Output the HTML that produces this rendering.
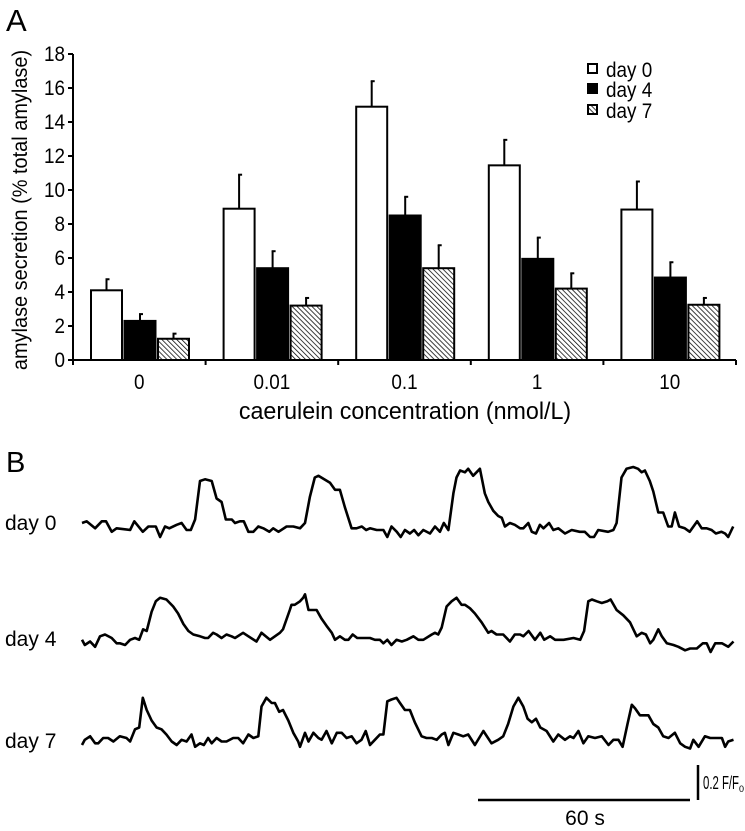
<!DOCTYPE html>
<html><head><meta charset="utf-8"><style>
body{margin:0;background:#fff}
svg{display:block;font-family:"Liberation Sans",Arial,sans-serif}
</style></head><body>
<svg id="fig" width="745" height="831" viewBox="0 0 745 831" xmlns="http://www.w3.org/2000/svg">
<defs>
<pattern id="hatch" patternUnits="userSpaceOnUse" width="3.5" height="3.5" patternTransform="rotate(-45)">
<rect width="3.5" height="3.5" fill="#fff"/><line x1="0" y1="0" x2="0" y2="3.5" stroke="#000" stroke-width="1.5"/>
</pattern>
</defs>
<text x="6" y="31" font-size="31">A</text>
<text x="6" y="472" font-size="29">B</text>
<g id="barChart"></g>
<g id="legend">
<rect x="588" y="64" width="9" height="9" fill="#fff" stroke="#000" stroke-width="2"/>
<text x="0" y="0" font-size="21" transform="translate(606,77) scale(0.9,1)">day 0</text>
<rect x="588" y="84" width="9" height="9" fill="#000" stroke="#000" stroke-width="2"/>
<text x="0" y="0" font-size="21" transform="translate(606,97) scale(0.9,1)">day 4</text>
<rect x="588" y="105" width="9" height="9" fill="url(#hatch)" stroke="#000" stroke-width="2"/>
<text x="0" y="0" font-size="21" transform="translate(606,118) scale(0.9,1)">day 7</text>
</g>
<g id="traces"></g>
<text x="5" y="530" font-size="21">day 0</text>
<text x="5" y="646" font-size="21">day 4</text>
<text x="5" y="748" font-size="21">day 7</text>
<g>
<line x1="478" y1="800" x2="690" y2="800" stroke="#000" stroke-width="2.5"/>
<text x="585" y="825" font-size="21" text-anchor="middle">60 s</text>
<line x1="698" y1="765" x2="698" y2="800" stroke="#000" stroke-width="2.5"/>
<text x="703" y="789" font-size="18"><tspan textLength="36" lengthAdjust="spacingAndGlyphs">0.2 F/F</tspan><tspan font-size="9" dy="3">0</tspan></text>
</g>
</svg>
<script>
const categories = ["0","0.01","0.1","1","10"];
const day0 = [4.1, 8.9, 14.9, 11.45, 8.85];
const day4 = [2.3, 5.4, 8.5, 5.95, 4.85];
const day7 = [1.25, 3.2, 5.4, 4.2, 3.25];
const day0Err = [0.65, 2.0, 1.5, 1.5, 1.65];
const day4Err = [0.4, 1.0, 1.1, 1.25, 0.9];
const day7Err = [0.3, 0.45, 1.35, 0.9, 0.4];
const yTicks = [0,2,4,6,8,10,12,14,16,18];

const t0 = [0,1.3,3.7,5.6,6.8,8.4,9.8,13.6,14.8,17.2,18.8,20.9,22.1,23.5,24.7,26.8,28.2,29.6,30.8,32.0,33.4,34.8,36.7,38.1,39.5,40.7,42.4,43.3,44.7,45.8,47.1,48.5,49.9,51.3,53.0,54.1,55.6,57.9,59.8,61.7,63.1,64.5,65.9,66.9,70.2,71.6,73.0,74.4,76.3,77.7,79.2,80.4,81.5,83.4,85.3,86.4,87.6,89.1,90.2,91.4,92.8,94.0,95.2,96.6,98.5,99.9,101.3,102.4,103.7,105.1,106.0,107.0,108.4,109.3,110.7,112.6,114.0,115.0,116.4,117.8,118.8,119.7,121.1,122.5,124.0,124.9,126.3,127.3,128.5,129.6,130.6,132.2,133.4,134.8,136.7,138.6,140.9,142.3,143.8,144.9,146.1,148.9,150.4,151.3,152.7,154.1,156.0,157.4,158.4,159.3,160.7,161.7,163.1,164.5,165.9,166.9,167.8,169.0,170.6,172.0,174.1,175.4,176.8,178.2,179.4,181.0,182.0,182.9,184.3];
const v0 = [.04,.05,.01,.05,.05,-.01,.01,0,.05,-.01,.02,.02,-.04,.02,.01,.03,.04,0,0,.06,.28,.29,.28,.18,.16,.06,.06,.04,.05,.05,-.01,-.01,.02,.01,-.01,.01,-.01,.02,.02,.01,.04,.19,.30,.31,.27,.23,.23,.13,.01,.01,.02,0,.01,0,0,-.04,.02,-.01,-.04,0,-.02,0,-.03,0,-.02,.02,-.01,.04,0,.21,.30,.34,.33,.35,.31,.35,.21,.16,.11,.08,.07,.02,.04,.03,.01,.01,.04,-.01,-.02,.03,.01,.04,0,.01,-.02,0,-.01,-.01,-.04,-.04,0,-.01,0,.04,.30,.35,.36,.35,.33,.34,.28,.22,.10,.10,.02,.02,.10,.02,.01,-.01,.05,.01,.01,0,-.02,-.01,-.02,-.04,.02];
const t4 = [0,0.8,2.3,3.7,5.1,6.5,8.4,9.8,10.7,12.2,13.6,15.0,16.2,17.3,18.3,19.7,20.9,22.1,23.9,25.8,27.2,28.7,30.1,31.5,33.4,34.8,35.7,37.1,38.1,39.5,40.9,42.3,43.3,45.6,47.1,49.4,50.8,53.2,56.0,56.9,58.8,59.3,60.2,61.7,62.6,63.1,64.1,65.5,66.4,67.8,69.2,70.7,71.6,73.0,74.4,75.4,76.6,77.9,80.1,81.5,82.9,84.3,85.3,86.4,87.6,89.0,90.5,91.9,93.8,95.2,96.6,99.0,99.9,100.8,101.8,103.2,104.6,106.0,107.4,108.4,109.8,111.2,113.1,115.0,115.9,117.3,119.2,121.1,122.5,124.0,124.9,126.4,128.2,129.7,130.8,132.5,133.9,136.3,139.1,141.0,142.1,143.3,144.3,145.7,147.1,148.7,149.6,151.3,153.2,155.1,157.0,158.4,159.6,160.8,161.7,163.1,164.1,165.5,167.4,168.8,170.7,172.1,174.0,175.7,176.8,177.9,179.2,181.1,182.9,184.4];
const v4 = [.03,0,.02,-.01,.05,.06,.04,.01,.01,0,.03,.04,.03,.09,.08,.19,.25,.27,.26,.22,.18,.12,.08,.06,.05,.04,.04,.07,.06,.04,.06,.05,.04,.07,.05,.02,.07,.03,.07,.09,.20,.23,.23,.25,.27,.29,.20,.20,.20,.15,.11,.07,.03,.05,.03,.03,.06,.04,.04,.04,.03,.03,.01,.03,0,.03,.02,.03,.05,.03,.03,.06,.07,.06,.10,.22,.25,.27,.23,.23,.21,.18,.13,.07,.08,.06,.06,.02,.06,.06,.05,.08,.03,.07,.03,.05,.03,.03,.04,.03,.08,.25,.26,.25,.24,.25,.26,.20,.17,.13,.05,.07,.06,.01,.03,.09,.05,.01,0,-.01,-.03,-.02,-.02,.01,.01,-.04,.01,.01,-.01,.02];
const t7 = [0,0.8,2.3,3.7,4.6,6.0,7.4,8.9,10.7,12.6,13.6,15.0,16.2,17.2,18.3,19.7,21.1,22.5,23.9,25.4,26.8,28.2,29.6,31.0,32.0,33.4,34.5,35.7,36.7,38.1,39.5,40.9,42.8,44.2,45.6,47.1,48.5,49.9,50.8,52.2,53.7,54.6,55.8,56.9,58.4,59.8,61.2,61.7,63.1,64.1,65.5,66.9,67.8,69.2,70.7,72.1,73.5,74.9,76.3,77.7,79.1,80.3,81.5,82.9,84.3,85.3,86.4,87.6,89.0,90.0,91.4,92.8,94.2,96.1,97.5,99.0,100.4,101.8,102.7,103.7,105.1,106.5,107.9,109.3,111.2,113.6,115.9,117.8,119.2,120.6,122.1,123.5,124.9,126.1,127.3,128.5,129.7,131.5,133.4,134.8,136.7,138.1,139.1,140.5,141.9,143.3,145.2,147.1,149.0,150.4,151.8,153.0,154.4,155.6,156.5,157.9,160.3,161.7,163.1,164.5,166.0,167.8,169.3,170.7,172.1,173.0,174.5,176.3,177.8,179.2,181.1,182.0,182.9,184.4];
const v7 = [0,.03,.05,.01,.01,.04,.04,.02,.05,.04,.02,.09,.10,.27,.20,.14,.10,.09,.06,.02,0,.03,.02,.06,-.01,.01,0,.04,.01,.04,.02,.02,.04,.04,.01,.06,.04,.05,.22,.27,.24,.24,.19,.20,.14,.07,.02,-.01,.07,.02,.07,.04,.03,.08,.01,.07,.07,.04,.05,.01,.03,.08,0,.03,.06,.06,.25,.26,.27,.24,.20,.20,.13,.05,.04,.04,.03,.06,.07,0,.07,.06,.05,.06,0,.08,.01,.03,.05,.12,.22,.27,.22,.15,.13,.15,.10,.08,.02,.06,.03,.05,.04,.08,.01,.05,.04,.05,0,.03,.03,-.01,.12,.23,.21,.17,.17,.12,.10,.05,.04,.07,.01,-.01,-.02,.03,-.01,.05,.04,.04,.04,-.01,.02,.03];

const NS = "http://www.w3.org/2000/svg";
function mk(tag, attrs, parent){ const e=document.createElementNS(NS,tag); for(const k in attrs) e.setAttribute(k,attrs[k]); parent.appendChild(e); return e; }

const X0=73, X1=736, Y0=360, PXU=17;
const groupW=(X1-X0)/categories.length;
const yScale = v => Y0 - v*PXU;
const barX = (g,s) => X0 + g*groupW + 18 + s*33.5;
const BW=31;
const bc=document.getElementById('barChart');
const series=[[day0,day0Err,'#fff'],[day4,day4Err,'#000'],[day7,day7Err,'url(#hatch)']];
const sNames=['day0','day4','day7'];
categories.forEach((c,g)=>{
  series.forEach((s,si)=>{
    const x=barX(g,si), v=s[0][g], e=s[1][g], cx=x+BW/2;
    const ln=mk('line',{x1:cx,y1:yScale(v),x2:cx,y2:yScale(v+e),stroke:'#000','stroke-width':2},bc);
    
    
    const cap=mk('line',{x1:cx-1,y1:yScale(v+e),x2:cx+3,y2:yScale(v+e),stroke:'#000','stroke-width':2},bc);
    
    
    const r=mk('rect',{x:x,y:yScale(v),width:BW,height:Y0-yScale(v),fill:s[2],stroke:'#000','stroke-width':2},bc);
    
    
  });
  const lab=mk('text',{x:0,y:0,'font-size':21,'text-anchor':'middle',transform:'translate('+(X0+(g+0.5)*groupW)+',389) scale(0.9,1)'},bc);
  lab.textContent=c;
  
  
});
const ya=mk('line',{x1:X0,y1:yScale(18),x2:X0,y2:Y0+1,stroke:'#000','stroke-width':2},bc);


const xa=mk('line',{x1:X0-1,y1:Y0,x2:X1,y2:Y0,stroke:'#000','stroke-width':2},bc);


for(let g=0;g<=categories.length;g++){
  const tk=mk('line',{x1:X0+g*groupW,y1:Y0,x2:X0+g*groupW,y2:Y0+5,stroke:'#000','stroke-width':2},bc);
  
  
}
yTicks.forEach(t=>{
  const tk=mk('line',{x1:X0-5,y1:yScale(t),x2:X0,y2:yScale(t),stroke:'#000','stroke-width':2},bc);
  
  
  const l=mk('text',{x:0,y:0,'font-size':21,'text-anchor':'end',transform:'translate('+(X0-8)+','+(yScale(t)+7)+') scale(0.9,1)'},bc);
  l.textContent=t;
  
  
});
const yt=mk('text',{x:0,y:0,'font-size':21,'text-anchor':'middle',transform:'translate(27,210) rotate(-90) scale(0.95,1)'},bc);
yt.textContent='amylase secretion (% total amylase)';


const xt=mk('text',{x:0,y:0,'font-size':24,'text-anchor':'middle',transform:'translate(405,419) scale(0.97,1)'},bc);
xt.textContent='caerulein concentration (nmol/L)';



const TX0=82, PX_PER_S=212/60, PX_PER_F=35/0.2;
const tScale = t => TX0 + t*PX_PER_S;
const tr=document.getElementById('traces');
[[t0,v0,530,'day0'],[t4,v4,645,'day4'],[t7,v7,745,'day7']].forEach(([t,v,base,nm])=>{
  const pts=t.map((ti,i)=>tScale(ti).toFixed(1)+','+(base - v[i]*PX_PER_F).toFixed(1)).join(' ');
  const p=mk('polyline',{points:pts,fill:'none',stroke:'#000','stroke-width':2.6,'stroke-linejoin':'round'},tr);
  
  
});
</script>
</body></html>
